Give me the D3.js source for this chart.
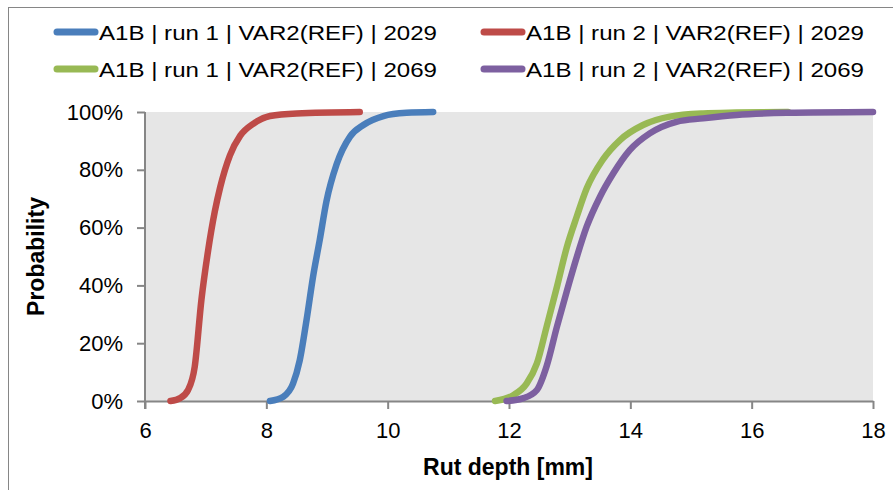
<!DOCTYPE html>
<html>
<head>
<meta charset="utf-8">
<script src="https://cdn.jsdelivr.net/npm/d3@7"></script>
<style>
  body { margin: 0; background: #fff; }
  svg { display: block; font-family: "Liberation Sans", Arial, sans-serif; }
</style>
</head>
<body>
<div id="chart"></div>
<script>
// cumulative probability curves
const seriesNames = [
  "A1B | run 1 | VAR2(REF) | 2029",
  "A1B | run 2 | VAR2(REF) | 2029",
  "A1B | run 1 | VAR2(REF) | 2069",
  "A1B | run 2 | VAR2(REF) | 2069"
];
const seriesColors = ["#4a7ebb", "#be4b48", "#98b954", "#7d60a0"];

const run1_2029_x = [8.06, 8.28, 8.44, 8.55, 8.67, 8.77, 8.88, 8.99, 9.16, 9.38, 9.60, 9.93, 10.31, 10.75];
const run1_2029_p = [0, 0.015, 0.06, 0.14, 0.29, 0.43, 0.557, 0.69, 0.82, 0.915, 0.955, 0.986, 0.997, 1.0];

const run2_2029_x = [6.42, 6.58, 6.71, 6.82, 6.93, 7.04, 7.15, 7.24, 7.40, 7.57, 7.79, 8.06, 8.50, 9.54];
const run2_2029_p = [0, 0.01, 0.038, 0.119, 0.35, 0.52, 0.655, 0.74, 0.85, 0.918, 0.96, 0.986, 0.995, 1.0];

const run1_2069_x = [11.77, 12.07, 12.29, 12.46, 12.62, 12.79, 12.95, 13.12, 13.28, 13.55, 13.83, 14.21, 14.65, 15.20, 15.75, 16.6];
const run1_2069_p = [0, 0.02, 0.06, 0.13, 0.257, 0.395, 0.53, 0.64, 0.735, 0.836, 0.903, 0.955, 0.984, 0.995, 0.998, 1.0];

const run2_2069_x = [11.96, 12.24, 12.46, 12.62, 12.79, 12.95, 13.12, 13.28, 13.50, 13.72, 13.99, 14.32, 14.76, 15.20, 15.75, 16.58, 18.0];
const run2_2069_p = [0, 0.01, 0.038, 0.12, 0.257, 0.378, 0.5, 0.603, 0.707, 0.788, 0.868, 0.926, 0.966, 0.978, 0.99, 0.997, 1.0];

const xTicks = [6, 8, 10, 12, 14, 16, 18];
const yTicks = [0, 0.2, 0.4, 0.6, 0.8, 1.0];

const series = [
  { name: seriesNames[0], xs: run1_2029_x, ps: run1_2029_p, color: seriesColors[0] },
  { name: seriesNames[1], xs: run2_2029_x, ps: run2_2029_p, color: seriesColors[1] },
  { name: seriesNames[2], xs: run1_2069_x, ps: run1_2069_p, color: seriesColors[2] },
  { name: seriesNames[3], xs: run2_2069_x, ps: run2_2069_p, color: seriesColors[3] }
];

const width = 893, height = 490;
const margin = { top: 112, left: 145 };
const plotRight = 873, plotBottom = 401;

const svg = d3.select("#chart").append("svg")
  .attr("width", width)
  .attr("height", height);

// outer chart border (right and bottom edges fall outside the picture)
svg.append("rect")
  .attr("x", 8.5).attr("y", 7.5)
  .attr("width", 1000).attr("height", 1000)
  .attr("fill", "none")
  .attr("stroke", "#868686");

const x = d3.scaleLinear().domain([6, 18]).range([margin.left, plotRight]);
const y = d3.scaleLinear().domain([0, 1]).range([plotBottom, margin.top]);

// plot area background
svg.append("rect")
  .attr("x", x(6)).attr("y", y(1))
  .attr("width", x(18) - x(6)).attr("height", y(0) - y(1))
  .attr("fill", "#e6e6e6");

// axes
const xAxis = svg.append("g")
  .attr("transform", `translate(0,${y(0)})`)
  .call(d3.axisBottom(x).tickValues(xTicks).tickSize(8).tickSizeOuter(0).tickPadding(16));

const yAxis = svg.append("g")
  .attr("transform", `translate(${x(6)},0)`)
  .call(d3.axisLeft(y).tickValues(yTicks).tickSize(8).tickSizeOuter(0).tickPadding(14)
    .tickFormat(d3.format(".0%")));

[xAxis, yAxis].forEach(g => {
  g.select(".domain").attr("stroke", "#868686").attr("stroke-width", 2);
  g.selectAll(".tick line").attr("stroke", "#868686").attr("stroke-width", 2);
  g.selectAll(".tick text").attr("fill", "#000").style("font-size", "22px")
    .style("font-family", "'Liberation Sans', Arial, sans-serif");
});
xAxis.selectAll(".tick text").attr("dy", "0.6em");
// extend y axis a bit below the x axis, like the original
yAxis.select(".domain").attr("d", `M0,${y(1)}V${y(0) + 8}`);

// curves
const line = d3.line()
  .x(d => x(d[0]))
  .y(d => y(d[1]))
  .curve(d3.curveMonotoneX);

svg.append("g").selectAll("path")
  .data(series)
  .join("path")
  .attr("d", s => line(s.xs.map((v, i) => [v, s.ps[i]])))
  .attr("fill", "none")
  .attr("stroke", s => s.color)
  .attr("stroke-width", 6.5)
  .attr("stroke-linecap", "round")
  .attr("stroke-linejoin", "round");

// axis titles
svg.append("text")
  .attr("x", 508)
  .attr("y", 475)
  .attr("text-anchor", "middle")
  .style("font-size", "23px")
  .style("font-weight", "bold")
  .text("Rut depth [mm]");

svg.append("text")
  .attr("transform", `translate(44,${(y(0) + y(1)) / 2}) rotate(-90)`)
  .attr("text-anchor", "middle")
  .style("font-size", "23px")
  .style("font-weight", "bold")
  .text("Probability");

// legend
const legendPos = [[54, 32], [481, 32], [54, 69], [481, 69]];
const legend = svg.append("g").selectAll("g")
  .data(series)
  .join("g")
  .attr("transform", (d, i) => `translate(${legendPos[i][0]},${legendPos[i][1]})`);

legend.append("line")
  .attr("x1", 3).attr("x2", 41)
  .attr("stroke", d => d.color)
  .attr("stroke-width", 7)
  .attr("stroke-linecap", "round");

legend.append("text")
  .attr("x", 45)
  .attr("y", 8)
  .style("font-size", "21px")
  .attr("textLength", 338)
  .attr("lengthAdjust", "spacingAndGlyphs")
  .text(d => d.name);
</script>
</body>
</html>
